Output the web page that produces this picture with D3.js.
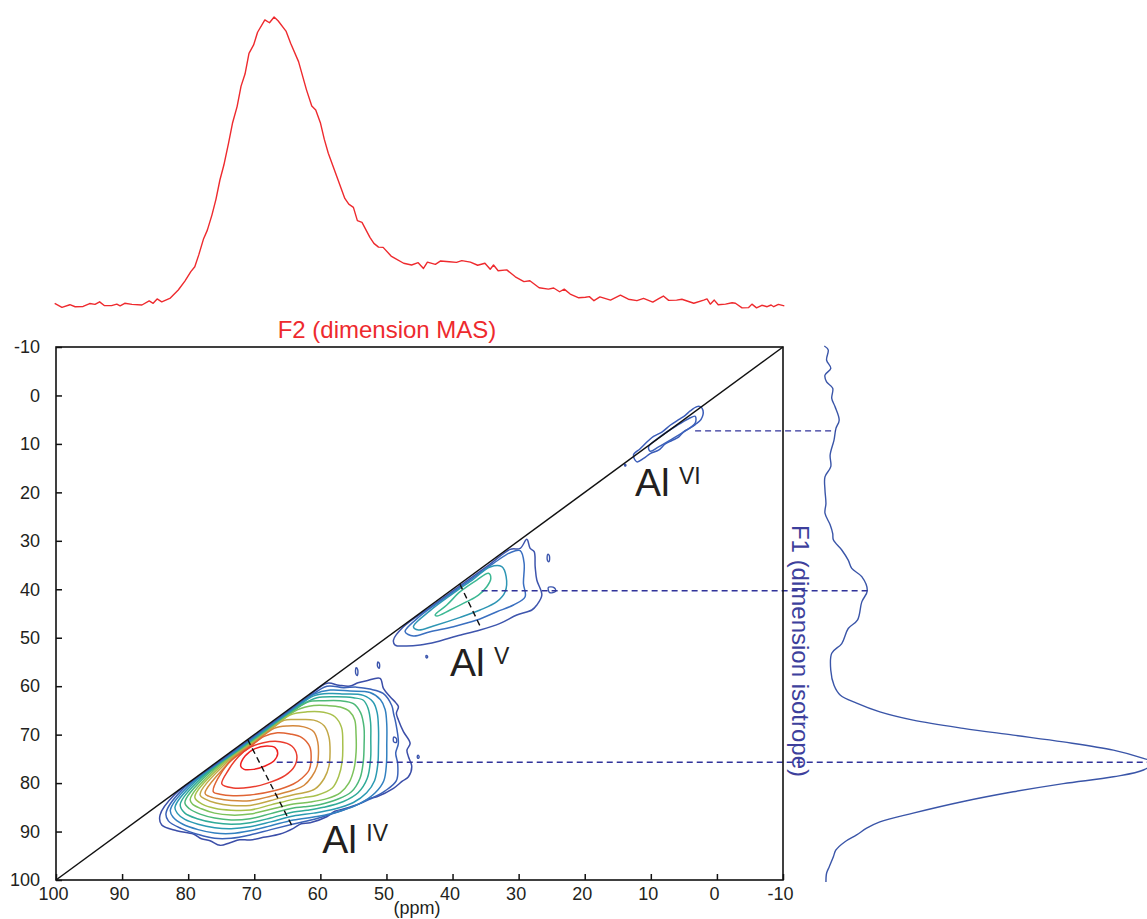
<!DOCTYPE html>
<html>
<head>
<meta charset="utf-8">
<script src="https://cdn.jsdelivr.net/npm/d3@7"></script>
<style>
  html, body { margin: 0; padding: 0; background: #fff; }
  svg { display: block; }
  text { font-family: "Liberation Sans", Arial, Helvetica, sans-serif; }
</style>
</head>
<body>
<svg id="chart" width="1147" height="919"></svg>
<script>
// ---- axis ticks (ppm) ----
const f2Ticks = [100, 90, 80, 70, 60, 50, 40, 30, 20, 10, 0, -10];
const f1Ticks = [-10, 0, 10, 20, 30, 40, 50, 60, 70, 80, 90, 100];

// ---- F2 (MAS) projection: [ppm, intensity %] ----
const masProjection = [
  [100.2,0.6],[99.1,-0.8],[97.9,0.1],[97.1,-0.6],[95.9,-0.5],[94.9,0.5],[94.1,0.2],[93.4,1.1],
  [92.7,-0.2],[91.6,-0.2],[90.8,0.3],[90.3,-0.3],[89.6,0.6],[88.5,0.2],[87.0,0.0],[85.9,1.4],
  [85.3,0.6],[84.7,2.1],[84.0,1.1],[82.7,2.4],[81.5,5.2],[80.5,8.3],[79.6,11.6],[79.0,13.3],
  [78.4,17.4],[77.7,22.8],[77.1,26.0],[76.4,31.3],[75.8,36.7],[75.2,43.4],[74.6,48.6],[73.9,56.1],
  [73.3,63.1],[72.6,68.9],[72.0,76.0],[71.4,80.2],[70.8,87.4],[70.1,90.3],[69.5,94.7],[68.4,99.0],
  [67.7,98.0],[67.0,100.0],[66.4,98.7],[65.2,95.1],[64.5,90.9],[63.3,84.5],[62.1,74.7],[61.3,69.1],
  [60.7,67.7],[60.0,63.3],[59.4,57.5],[58.8,52.7],[57.5,44.5],[56.3,37.0],[55.7,35.0],[55.0,33.9],
  [54.4,29.3],[53.7,28.7],[52.5,23.5],[51.9,21.4],[51.2,20.1],[50.5,20.0],[49.3,17.0],[48.7,16.2],
  [47.4,14.5],[46.2,13.9],[45.2,14.7],[44.4,12.7],[43.8,14.9],[42.6,14.1],[41.8,15.3],[40.5,15.0],
  [39.4,14.8],[38.6,15.4],[37.3,14.9],[36.2,13.8],[35.1,14.5],[34.3,12.4],[33.8,13.9],[33.1,11.9],
  [31.8,12.2],[30.5,9.8],[29.2,8.1],[28.3,8.4],[26.9,6.0],[25.5,5.5],[24.7,5.9],[23.8,4.6],
  [23.1,5.5],[22.2,3.8],[20.9,2.5],[19.9,2.7],[19.3,2.9],[18.6,1.5],[17.7,2.8],[16.1,1.7],
  [14.6,3.4],[13.4,2.0],[12.1,1.5],[11.1,2.3],[9.7,1.0],[8.8,2.2],[8.1,3.1],[7.3,1.6],
  [6.1,1.7],[5.3,2.0],[3.5,0.6],[2.0,1.7],[1.5,2.1],[1.0,0.3],[0.4,1.7],[-0.2,0.1],
  [-1.3,0.3],[-2.3,0.8],[-2.8,0.6],[-3.8,-1.0],[-4.8,-0.9],[-5.3,0.3],[-6.0,-1.0],[-6.8,-0.1],
  [-7.6,-0.6],[-8.2,0.0],[-8.6,-0.6],[-9.3,0.2],[-10.2,-0.3]
];

// ---- F1 (isotropic) projection: [ppm, intensity %] ----
const isoProjection = [
  [-10.2,0.1],[-9.4,1.3],[-7.3,0.8],[-5.6,2.1],[-4.2,0.3],[-2.8,0.8],[-1.5,2.7],[0.6,2.4],
  [2.3,3.4],[5.1,4.7],[6.8,3.7],[9.2,3.1],[12.3,1.9],[14.7,2.1],[16.8,0.3],[19.5,0.3],
  [22.3,0.6],[24.3,0.3],[26.7,1.9],[28.5,2.7],[29.8,2.9],[31.9,5.5],[34.0,7.5],[35.7,8.6],
  [37.4,11.7],[40.3,13.4],[42.6,11.7],[46.3,10.4],[48.1,7.5],[51.2,5.5],[53.2,2.4],[56.7,2.1],
  [59.8,3.1],[61.8,5.0],[63.5,10.1],[65.3,17.3],[67.0,27.6],[68.7,43.1],[70.1,58.6],[71.5,74.1],
  [73.2,89.6],[74.9,98.9],[75.7,102],[77.3,98.9],[78.7,89.6],[80.1,74.1],[81.8,58.6],[83.8,43.1],
  [86.2,27.6],[88.0,17.3],[89.3,13.2],[90.7,10.1],[92.1,6.5],[93.8,3.7],[95.2,2.9],[97.3,1.6],
  [98.6,0.8],[100.4,0.6]
];

// ---- 2D contour levels, each ring as [F2 ppm, F1 ppm] ----
// Al IV site, outermost level first
const alIVRings = [
  [[84.26,86.6],[82,82.3],[78,78.3],[74,74.3],[70,70.3],[66,66.3],[62,62.3],[59,59.4],[57.2,59.8],[55.5,59.97],[54.3,59.3],[52.98,58.87],[50.96,58.38],
   [50.46,60.45],[49.45,62.17],[48.6,63.4],[48.19,64.23],[48.5,65.6],[48.19,66.98],[47.43,69.39],[46.42,71.8],[46.9,73.2],[46.67,74.55],[46.17,76.62],[46.67,78.68],[47.6,79.6],[48.94,81.09],
   [51.46,82.81],[52.6,83.2],[53.99,84.18],[56.51,85.35],[57.8,85.8],[59.03,86.94],[61.55,88.17],[62.9,88.4],[64.08,89.34],[66.09,90.51],[68.62,91.2],[70.64,91.75],[72.2,91.7],[73.66,92.3],
   [75.18,92.85],[76.69,91.9],[78.0,91.5],[79.21,90.51],[81.73,89.83],[84.0,88.66]],
  [[83.35,86.2],[81,81.5],[77,77.5],[73,73.5],[69,69.5],[65,65.5],[61.5,62.0],[59.0,60.0],[56.5,60.3],[54.5,60.2],[52.5,60.6],
   [50.5,61.5],[49.2,64.0],[48.9,65.8],[48.6,67.5],[48.2,71.8],[48.6,73.8],[48.3,76.0],[48.5,79.5],[50.2,81.6],
   [52.5,83.3],[55.0,84.8],[57.5,86.0],[60.5,87.3],[64.08,88.45],[67.5,89.6],[70.64,90.72],[73.5,91.4],[76.0,91.4],[78.5,90.6],[81.0,89.4],[83.0,87.8]],
  [[82.7,85.6],[80,80.65],[76,76.65],[72,72.65],[68,68.65],[64,64.65],[61,61.7],[58.5,60.8],[55.5,61.0],[52.5,61.3],
   [50.9,62.8],[50.2,64.8],[49.95,68],[49.95,72],[50.0,76.0],[50.4,79.5],[51.7,82.0],
   [54.0,84.2],[57.0,85.8],[60.5,86.9],[64.08,87.62],[67.5,88.8],[70.64,89.83],[73.5,90.4],[76.0,90.3],[78.5,89.6],[80.8,88.5],[82.3,87.0]],
  [[82.0,85.0],[79,79.8],[75,75.8],[71,71.8],[67,67.8],[63.5,64.3],[61.0,62.0],[58.5,61.5],[56.5,61.6],[53.5,61.9],
   [52.0,63.3],[51.4,65.5],[51.2,69.0],[51.21,72.5],[51.3,76.0],[51.8,79.5],[53.0,82.0],
   [55.0,84.0],[58.0,85.4],[61.0,86.2],[64.08,86.8],[67.5,88.0],[70.64,89.0],[73.5,89.4],[76.0,89.2],[78.5,88.5],[80.5,87.5],[81.6,86.3]],
  [[81.2,84.4],[78,78.95],[74,74.95],[70,70.95],[66,66.95],[63,64.0],[60.5,62.4],[57.5,62.2],[55.0,62.4],[53.5,62.9],
   [52.8,64.5],[52.4,67.5],[52.37,71.0],[52.4,75.0],[52.9,79.0],[54.3,82.0],
   [56.5,83.8],[59.5,85.0],[62.0,85.6],[64.08,85.97],[67.5,87.2],[70.64,88.17],[73.5,88.5],[76.0,88.2],[78.5,87.4],[80.5,86.2]],
  [[80.5,84.0],[77,78.1],[73,74.1],[69,70.1],[65,66.1],[62,63.3],[59.5,63.0],[57.0,63.0],[55.0,63.6],
   [53.9,65.5],[53.4,68.5],[53.38,72.0],[53.5,75.5],[54.0,79.0],[55.3,81.8],
   [57.5,83.4],[60.0,84.4],[62.5,84.9],[64.08,85.15],[67.5,86.3],[70.64,87.35],[73.5,87.6],[76.0,87.2],[78.2,86.4],[79.8,85.3]],
  [[79.7,83.4],[76,77.25],[72,73.25],[68,69.25],[63.5,64.9],[61.0,64.0],[59.0,64.0],[57.0,64.3],[55.6,65.2],
   [54.8,67.0],[54.6,70.0],[54.59,73.5],[54.9,77.0],[55.7,80.0],[57.0,82.0],
   [59.0,83.2],[61.5,83.9],[64.08,84.32],[67.5,85.4],[70.64,86.39],[73.5,86.6],[76.0,86.2],[78.0,85.3],[79.3,84.4]],
  [[79.0,82.9],[75,76.4],[71,72.4],[67,68.4],[64.5,65.9],[62.0,65.3],[59.5,65.4],[57.8,66.3],
   [56.8,68.5],[56.61,72.0],[56.7,75.5],[57.2,78.5],[58.2,81.0],
   [60.5,82.5],[62.5,83.0],[64.08,83.36],[67.5,84.5],[70.64,85.56],[73.5,85.6],[76.0,85.2],[77.8,84.4]],
  [[78.2,82.4],[74,75.55],[70,71.55],[65.5,67.05],[63.5,66.9],[61.0,67.0],[59.4,68.2],
   [58.7,70.5],[58.53,73.5],[58.7,76.5],[59.4,79.0],[60.8,81.2],
   [62.5,82.0],[64.08,82.4],[67.5,83.6],[70.64,84.6],[73.5,84.6],[75.8,84.1],[77.4,83.3]],
  [[77.45,82.1],[73,74.7],[70,71.7],[67,68.7],[65.0,68.2],[62.5,68.4],[61.0,69.4],
   [60.4,71.5],[60.29,74.0],[60.5,76.5],[61.3,78.7],[62.5,80.5],
   [64.08,81.43],[67.5,82.7],[70.64,83.63],[73.5,83.6],[75.6,83.2],[76.9,82.7]],
  [[76.2,81.8],[74,76.0],[71,72.9],[68.5,70.35],[66.5,69.6],[64.58,69.87],[62.8,70.6],
   [61.6,72.5],[61.4,75.0],[61.7,77.3],[62.8,79.0],
   [64.08,80.19],[67.0,81.6],[70.64,82.46],[73.2,82.6],[75.2,82.3]],
  [[74.9,80.2],[73.91,77.3],[72.4,74.55],[70.64,72.63],[68.62,71.66],[66.09,71.46],[64.33,72.35],[63.57,74.21],
   [63.9,76.5],[65.3,78.4],[68.11,80.06],[70.64,80.88],[73.2,81.0]],
  [[72.05,76.48],[71.39,74.41],[69.88,72.9],[68.11,72.35],[66.85,72.69],[66.45,73.86],[67.0,75.38],[68.36,76.48],[70.13,77.17],[71.54,77.17]]
];
const alIVColors = ["#3b4ea8","#3a62b8","#3280c0","#2a9ab2","#30ab98","#4cb878","#7cc25c","#a8c04c",
                    "#c2a847","#d4883c","#e06434","#ea3c2e","#f02020"];

// Al V site
const alVRings = [
  [[48.94,50.47],[47.43,47.72],[43.39,43.73],[38.35,38.78],[34.31,34.79],[31.28,31.76],[29.77,31.55],[28.76,29.7],[28.26,31.55],
   [27.65,32.24],[27.5,35.34],[27.25,38.09],[26.49,41.19],[27.25,43.25],[28.0,44.28],[30.28,45.31],[32.8,47.03],[35.83,48.41],
   [39.36,49.65],[42.38,50.82],[44.9,51.51],[47.18,51.71],[48.69,51.51]],
  [[47.18,48.75],[44.9,45.52],[40.87,41.53],[36.83,37.61],[33.81,34.65],[31.28,32.45],[29.77,32.04],[29.17,34.65],[29.27,38.78],
   [29.02,41.53],[30.78,43.25],[33.3,44.63],[36.33,46.35],[39.86,47.72],[43.39,48.75],[45.92,49.65]],
  [[45.92,47.72],[43.39,44.4],[39.86,40.8],[36.83,37.9],[34.31,35.4],[32.55,35.34],[31.89,37.4],[32.04,40.5],[33.3,42.56],
   [35.83,44.28],[38.85,45.8],[42.89,47.58],[45.16,48.41]],
  [[42.64,45.31],[40.87,43.25],[38.85,40.5],[36.33,38.09],[34.56,36.71],[34.21,37.75],[34.82,39.47],[36.08,41.19],[37.84,42.56],
   [40.37,44.28],[42.38,45.52]]
];
const alVColors = ["#3e55ad","#3a6fc0","#2e96b4","#3cb893"];

// Al VI site
const alVIRings = [
  [[12.62,12.29],[11.61,11.0],[10.34,9.3],[9.59,8.45],[8.33,7.55],[7.07,6.15],[5.80,5.0],[4.79,4.1],[4.04,3.2],
   [3.03,2.3],[2.53,2.3],[2.1,3.1],[2.42,5.0],[3.28,6.0],[4.29,6.9],[5.05,7.5],[5.80,8.6],[6.81,9.3],
   [7.82,10.0],[8.83,11.3],[10.09,12.0],[11.10,13.0],[12.11,13.7]],
  [[10.34,10.6],[8.58,8.5],[6.06,6.2],[4.29,4.8],[3.28,4.3],[3.28,5.7],[4.79,7.3],[6.81,9.0],[8.83,10.6],[10.09,11.5]]
];
const alVIColors = ["#3a5cb8","#3d62bb"];

// isolated low-level islands
const islands = [
  [[54.6,56.2],[54.35,56.6],[54.4,57.8],[54.65,57.4]],
  [[51.3,55.0],[51.05,55.4],[51.1,56.3],[51.35,55.9]],
  [[48.9,70.5],[48.5,70.8],[48.5,71.6],[48.9,71.5]],
  [[45.3,74.3],[45.1,74.4],[45.1,74.8],[45.3,74.8]],
  [[25.5,39.6],[24.6,39.7],[24.4,40.4],[25.3,40.7]],
  [[25.6,32.8],[25.35,33.1],[25.4,34.3],[25.65,34.0]],
  [[44.0,53.7],[43.8,53.8],[43.8,54.1],[44.0,54.1]],
  [[13.95,14.2],[13.8,14.3],[13.8,14.55],[13.95,14.5]]
];

// dashed guides from each site to the F1 projection
const guideF1 = [7.3, 40.3, 75.7];
const guideStartF2 = [3.3, 35.6, 66.6];
const guideEndIntensity = [3.7, 13.4, 102];

// chemical-shift distribution directions
const csLines = [
  [[71.0, 71.0], [64.1, 89.3]],
  [[38.9, 38.9], [35.8, 47.7]]
];

// site labels
const siteLabels = [
  { base: "Al", sup: "IV", f2: 59.7, f1: 94.5 },
  { base: "Al", sup: "V",  f2: 40.4, f1: 57.9 },
  { base: "Al", sup: "VI", f2: 12.4, f1: 20.7 }
];

// ---------------------------------------------------------------
const svg = d3.select("#chart");
const plot = { left: 56, right: 783, top: 347, bottom: 880 };

const x = d3.scaleLinear().domain([100, -10]).range([plot.left, plot.right]);
const y = d3.scaleLinear().domain([-10, 100]).range([plot.top, plot.bottom]);
const yMas = d3.scaleLinear().domain([0, 100]).range([305, 17]);
const xIso = d3.scaleLinear().domain([0, 100]).range([824, 1147]);

// MAS projection (top)
svg.append("path")
  .datum(masProjection)
  .attr("fill", "none")
  .attr("stroke", "#ee2a2e")
  .attr("stroke-width", 1.4)
  .attr("stroke-linejoin", "round")
  .attr("d", d3.line().x(d => x(d[0])).y(d => yMas(d[1])));

svg.append("text")
  .attr("x", 387).attr("y", 338)
  .attr("text-anchor", "middle")
  .attr("font-size", 24)
  .attr("fill", "#ee2a2e")
  .text("F2 (dimension MAS)");

// isotropic projection (right)
svg.append("path")
  .datum(isoProjection)
  .attr("fill", "none")
  .attr("stroke", "#3a55a8")
  .attr("stroke-width", 1.4)
  .attr("d", d3.line().x(d => xIso(d[1])).y(d => y(d[0])).curve(d3.curveCatmullRom));

svg.append("text")
  .attr("transform", "translate(792,651) rotate(90)")
  .attr("text-anchor", "middle")
  .attr("font-size", 24)
  .attr("fill", "#3d3f9c")
  .text("F1 (dimension isotrope)");

// contours
const ring = d3.line()
  .x(d => x(d[0])).y(d => y(d[1]))
  .curve(d3.curveCatmullRomClosed.alpha(0.5));

function drawRings(rings, colors, cls) {
  svg.append("g").attr("class", cls)
    .selectAll("path").data(rings).join("path")
    .attr("d", ring)
    .attr("fill", "none")
    .attr("stroke", (d, i) => colors[i])
    .attr("stroke-width", 1.5)
    .attr("stroke-linejoin", "round");
}
drawRings(alIVRings, alIVColors, "al-iv");
drawRings(alVRings, alVColors, "al-v");
drawRings(alVIRings, alVIColors, "al-vi");
svg.append("g").selectAll("path").data(islands).join("path")
  .attr("d", ring).attr("fill", "none").attr("stroke", "#3b55ad").attr("stroke-width", 1.4);

// diagonal F1 = F2
svg.append("line")
  .attr("x1", x(100)).attr("y1", y(100))
  .attr("x2", x(-10)).attr("y2", y(-10))
  .attr("stroke", "#111").attr("stroke-width", 1.5);

// dashed guides
svg.append("g").selectAll("line").data(guideF1).join("line")
  .attr("x1", (d, i) => x(guideStartF2[i]))
  .attr("x2", (d, i) => xIso(guideEndIntensity[i]))
  .attr("y1", d => y(d)).attr("y2", d => y(d))
  .attr("stroke", "#30339a").attr("stroke-width", 1.3)
  .attr("stroke-dasharray", "6,4");

svg.append("g").selectAll("line").data(csLines).join("line")
  .attr("x1", d => x(d[0][0])).attr("y1", d => y(d[0][1]))
  .attr("x2", d => x(d[1][0])).attr("y2", d => y(d[1][1]))
  .attr("stroke", "#111").attr("stroke-width", 1.4)
  .attr("stroke-dasharray", "6,4");

// frame
svg.append("rect")
  .attr("x", plot.left).attr("y", plot.top)
  .attr("width", plot.right - plot.left).attr("height", plot.bottom - plot.top)
  .attr("fill", "none").attr("stroke", "#111").attr("stroke-width", 1.6);

// axes
const plain = d => String(d);
const gx = svg.append("g")
  .attr("transform", `translate(0,${plot.bottom})`)
  .call(d3.axisBottom(x).tickValues(f2Ticks).tickFormat(plain).tickSizeInner(-6).tickSizeOuter(0).tickPadding(7));
gx.select(".domain").remove();
gx.attr("font-size", 18).attr("font-family", "Liberation Sans, Arial, sans-serif");
gx.selectAll(".tick line").attr("stroke", "#111").attr("stroke-width", 1.5);
gx.selectAll(".tick text").attr("fill", "#231f20").attr("dx", -3);

const gy = svg.append("g")
  .attr("transform", `translate(${plot.left},0)`)
  .call(d3.axisLeft(y).tickValues(f1Ticks).tickFormat(plain).tickSizeInner(-6).tickSizeOuter(0).tickPadding(16));
gy.select(".domain").remove();
gy.attr("font-size", 18).attr("font-family", "Liberation Sans, Arial, sans-serif");
gy.selectAll(".tick line").attr("stroke", "#111").attr("stroke-width", 1.5);
gy.selectAll(".tick text").attr("fill", "#231f20");

svg.append("text")
  .attr("x", 417).attr("y", 914)
  .attr("text-anchor", "middle")
  .attr("font-size", 18)
  .attr("fill", "#231f20")
  .text("(ppm)");

// site labels
const lab = svg.append("g").selectAll("g").data(siteLabels).join("g")
  .attr("transform", d => `translate(${x(d.f2)},${y(d.f1)})`);
lab.append("text").attr("font-size", 39).attr("fill", "#231f20").text(d => d.base);
lab.append("text").attr("x", 44).attr("y", -12).attr("font-size", 23).attr("fill", "#231f20").text(d => d.sup);
</script>
</body>
</html>
